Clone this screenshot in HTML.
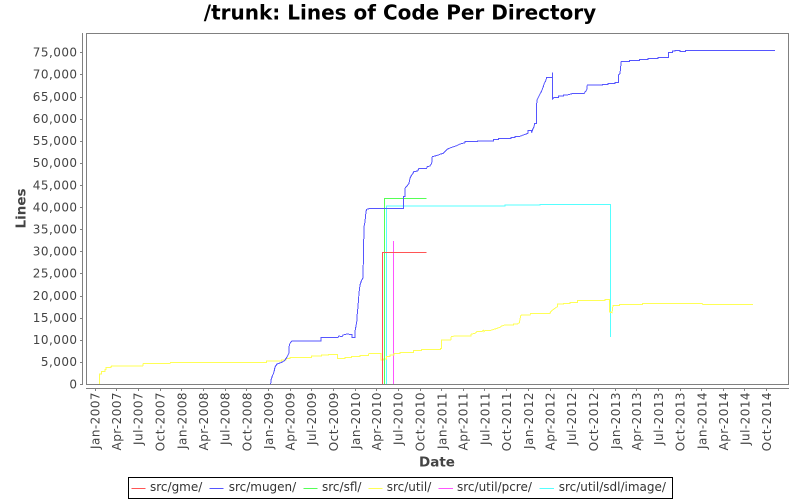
<!DOCTYPE html>
<html><head><meta charset="utf-8"><style>
html,body{margin:0;padding:0;background:#fff;}
svg{display:block;}
.t{font-family:"DejaVu Sans","Liberation Sans",sans-serif;font-size:12px;fill:#444;letter-spacing:0.45px;}
.lg{font-family:"DejaVu Sans","Liberation Sans",sans-serif;font-size:12px;fill:#333;}
.al{font-family:"DejaVu Sans","Liberation Sans",sans-serif;font-size:13.5px;font-weight:bold;fill:#444;}
</style></head><body>
<svg width="800" height="500" viewBox="0 0 800 500" xmlns="http://www.w3.org/2000/svg">
<rect width="800" height="500" fill="#fff"/>
<text x="400" y="19.5" text-anchor="middle" font-family="DejaVu Sans, Liberation Sans, sans-serif" font-size="20" font-weight="bold" fill="#000">/trunk: Lines of Code Per Directory</text>

<!-- plot outline -->
<rect x="86.5" y="33.5" width="702" height="351" fill="#fff" stroke="#808080" stroke-width="1"/>

<!-- series (reverse order) -->
<g fill="none" stroke-width="1" stroke-linejoin="miter" shape-rendering="crispEdges">
<path stroke="#55ffff" d="M386.5,384 V206 H505 V205 H540 V204.5 H610.5 V337"/>
<path stroke="#ff55ff" d="M393.5,384 V241"/>
<path stroke="#ffff55" d="M99.3,384 V374 H101.7 V371.7 H105 V369.3 H106 V367.3 H111 V366.7 H111.7 V366 H142.7 L143.3,363.3 H170 L170.7,362.3 H266.7 V361 H281.7 V360 H286 V358.3 H290 V357.3 H311.7 V356 H321.7 V355 H328.3 V354.3 H337.3 V358.3 H345 V357.3 H351.7 V356.7 H360 V355.7 H368.3 V354 L370,353.3 H381 V360 H383.3 V359 H386.7 V356.7 H390 V355 H394 V353.3 H400 V352.3 H413.3 V350.7 H421.7 V349.3 H440.7 V348.3 H441.7 V340 H450.7 L451.3,336.7 L455,336 H471 V334.3 L475,333.3 L476.7,331.7 H481.7 L483.3,330 L484,331.7 L485,330.7 H490 L491.7,330 L495,329 L500,327.3 L501.7,326 L505,325 H513.3 V324 H517.3 L519.3,322.7 L520.7,316 L521.7,315 H530 L530.7,313.3 H550 L550.7,311.7 L552.7,310 L555,308.3 L557.3,306.7 V304 H563.3 V303.3 H570 V302.7 H577.3 V300.7 H605 V299.3 H609.3 V312 L612,312.7 L613,305.3 H619.3 V304.3 H642.3 V303.3 H702 L703,304.3 L705.7,304.7 L707.3,304.3 H753"/>
<path stroke="#55ff55" d="M384.5,384 V198.5 H426.7"/>
<path stroke="#5555ff" d="M270.7,384 L271,380 L272,377 L274,372 L275,367 L277,364 L280,363 L283,361.7 L285,360 L287,357 L289,353 V347 L290,343.3 L292,341 H321 V337.3 H338 L339,336 L342,336.7 L343,335 L347,334 L352,334.7 V337.3 H355 V331.7 L357,320 L357.3,313 L358,306.7 L359,293 L360,285 L361.7,280 L363,278 L364,226.7 L365,221.7 L366,211.7 L366.7,209.3 L369,208.7 H403.3 V196.7 H405 V188.3 L407,186 L409,183.3 L410,178.3 L411.7,175 L412.7,174 L413.7,171.7 L417.7,171 L419,168.3 H426.7 L427.3,166.7 L430,166 L431.7,163.3 L432.3,156.7 L435,156 L438.3,155 L440,154.3 L443.3,153.3 L445,151.7 L447.7,149 L451.7,147.3 L456.7,145.7 L460,144 L465,142.7 V141.7 H477.7 V141 H493.3 V139.3 H498.3 V138.3 H511 V137.3 H515 V136.3 H520 L523.3,135 L528,133.3 V130.7 H531.7 V132.7 L532.7,129.3 L534,126.7 L534.7,123.3 H536.7 V103.3 L537.3,99.3 L538.7,96.7 L540,94 L541,92.3 L542,90 L543.3,86.7 L544.3,83.3 L545.3,81.7 L546,80 L546.7,77.3 H552.3 V72.7 V99.3 L554,97.7 H558.3 V96 H563.3 V95 H567.3 L573.3,93.3 H584.3 L585.3,91.7 L586.7,90 L587.3,85 H602.3 V84.3 H608 V83.3 H615 V82.7 H618.3 V75.3 L620,73.3 L620.7,66.7 L621.3,61.3 H629.3 V60.7 H639.3 V59.7 H648 V58.3 H658 V57.3 H668.3 V52.3 H672.3 V51 H675 V50.3 H680 V51.3 H685.3 V50.3 H775"/>
<path stroke="#ff5555" d="M382.5,384 V252.5 H426.7"/>
</g>

<!-- axes -->
<g stroke="#808080" stroke-width="1" fill="none">
<line x1="82.5" y1="33" x2="82.5" y2="385"/>
<line x1="86" y1="388.5" x2="789" y2="388.5"/>
<path d="M80,384.5H82 M80,362.5H82 M80,340.5H82 M80,318.5H82 M80,296.5H82 M80,273.5H82 M80,251.5H82 M80,229.5H82 M80,207.5H82 M80,185.5H82 M80,163.5H82 M80,141.5H82 M80,119.5H82 M80,97.5H82 M80,74.5H82 M80,52.5H82"/>
<path d="M95.5,388V391 M116.5,388V391 M138.5,388V391 M160.5,388V391 M181.5,388V391 M203.5,388V391 M225.5,388V391 M246.5,388V391 M268.5,388V391 M290.5,388V391 M311.5,388V391 M333.5,388V391 M355.5,388V391 M376.5,388V391 M398.5,388V391 M420.5,388V391 M441.5,388V391 M463.5,388V391 M484.5,388V391 M506.5,388V391 M528.5,388V391 M550.5,388V391 M571.5,388V391 M593.5,388V391 M615.5,388V391 M636.5,388V391 M658.5,388V391 M680.5,388V391 M701.5,388V391 M723.5,388V391 M744.5,388V391 M766.5,388V391"/>
</g>

<!-- y tick labels -->
<g class="t" text-anchor="end">
<text x="77.5" y="388.3">0</text>
<text x="77.5" y="366.2">5,000</text>
<text x="77.5" y="344.1">10,000</text>
<text x="77.5" y="322">15,000</text>
<text x="77.5" y="299.9">20,000</text>
<text x="77.5" y="277.7">25,000</text>
<text x="77.5" y="255.6">30,000</text>
<text x="77.5" y="233.5">35,000</text>
<text x="77.5" y="211.4">40,000</text>
<text x="77.5" y="189.3">45,000</text>
<text x="77.5" y="167.2">50,000</text>
<text x="77.5" y="145">55,000</text>
<text x="77.5" y="122.9">60,000</text>
<text x="77.5" y="100.8">65,000</text>
<text x="77.5" y="78.7">70,000</text>
<text x="77.5" y="56.6">75,000</text>
</g>

<!-- x tick labels -->
<g class="t" text-anchor="end">
<text transform="translate(99.7,392) rotate(-90)">Jan-2007</text>
<text transform="translate(121.1,392) rotate(-90)">Apr-2007</text>
<text transform="translate(142.6,392) rotate(-90)">Jul-2007</text>
<text transform="translate(164.5,392) rotate(-90)">Oct-2007</text>
<text transform="translate(186.3,392) rotate(-90)">Jan-2008</text>
<text transform="translate(207.9,392) rotate(-90)">Apr-2008</text>
<text transform="translate(229.5,392) rotate(-90)">Jul-2008</text>
<text transform="translate(251.3,392) rotate(-90)">Oct-2008</text>
<text transform="translate(273.2,392) rotate(-90)">Jan-2009</text>
<text transform="translate(294.5,392) rotate(-90)">Apr-2009</text>
<text transform="translate(316.1,392) rotate(-90)">Jul-2009</text>
<text transform="translate(337.9,392) rotate(-90)">Oct-2009</text>
<text transform="translate(359.8,392) rotate(-90)">Jan-2010</text>
<text transform="translate(381.1,392) rotate(-90)">Apr-2010</text>
<text transform="translate(402.7,392) rotate(-90)">Jul-2010</text>
<text transform="translate(424.5,392) rotate(-90)">Oct-2010</text>
<text transform="translate(446.4,392) rotate(-90)">Jan-2011</text>
<text transform="translate(467.7,392) rotate(-90)">Apr-2011</text>
<text transform="translate(489.3,392) rotate(-90)">Jul-2011</text>
<text transform="translate(511.1,392) rotate(-90)">Oct-2011</text>
<text transform="translate(533,392) rotate(-90)">Jan-2012</text>
<text transform="translate(554.6,392) rotate(-90)">Apr-2012</text>
<text transform="translate(576.2,392) rotate(-90)">Jul-2012</text>
<text transform="translate(598,392) rotate(-90)">Oct-2012</text>
<text transform="translate(619.8,392) rotate(-90)">Jan-2013</text>
<text transform="translate(641.2,392) rotate(-90)">Apr-2013</text>
<text transform="translate(662.8,392) rotate(-90)">Jul-2013</text>
<text transform="translate(684.6,392) rotate(-90)">Oct-2013</text>
<text transform="translate(706.4,392) rotate(-90)">Jan-2014</text>
<text transform="translate(727.8,392) rotate(-90)">Apr-2014</text>
<text transform="translate(749.4,392) rotate(-90)">Jul-2014</text>
<text transform="translate(771.2,392) rotate(-90)">Oct-2014</text>
</g>

<!-- axis labels -->
<text class="al" x="437" y="466.5" text-anchor="middle">Date</text>
<text class="al" transform="translate(25.5,208.5) rotate(-90)" text-anchor="middle">Lines</text>

<!-- legend -->
<rect x="128.5" y="477.5" width="544" height="21" fill="#fff" stroke="#000" stroke-width="1"/>
<g stroke-width="1">
<line x1="131.5" y1="488.5" x2="145.5" y2="488.5" stroke="#ff5555"/>
<line x1="209.5" y1="488.5" x2="223.5" y2="488.5" stroke="#5555ff"/>
<line x1="303.5" y1="488.5" x2="317.5" y2="488.5" stroke="#55ff55"/>
<line x1="368.5" y1="488.5" x2="382.5" y2="488.5" stroke="#ffff55"/>
<line x1="438.5" y1="488.5" x2="453" y2="488.5" stroke="#ff55ff"/>
<line x1="539.5" y1="488.5" x2="554" y2="488.5" stroke="#55ffff"/>
</g>
<g class="lg">
<text x="150" y="491.2">src/gme/</text>
<text x="228.7" y="491.2">src/mugen/</text>
<text x="322" y="491.2">src/sfl/</text>
<text x="386.7" y="491.2">src/util/</text>
<text x="457" y="491.2">src/util/pcre/</text>
<text x="558.7" y="491.2">src/util/sdl/image/</text>
</g>
</svg>
</body></html>
